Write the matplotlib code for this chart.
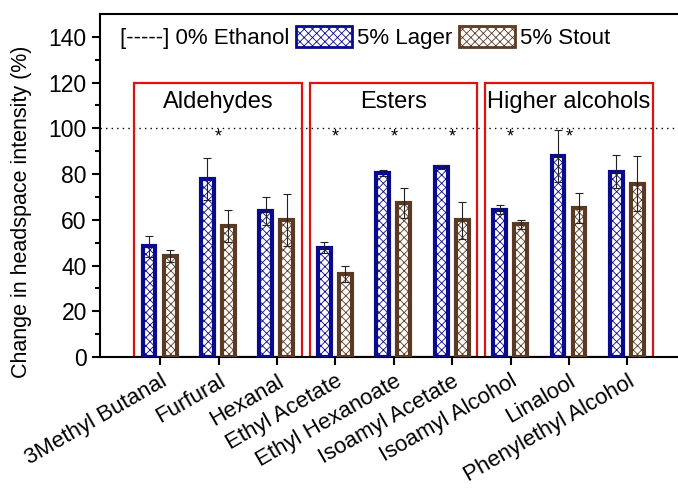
import numpy as np
import matplotlib
matplotlib.use("Agg")
import matplotlib.pyplot as plt
from matplotlib.patches import Rectangle, Patch
from matplotlib.lines import Line2D

plt.rcParams['font.family'] = ['Liberation Sans', 'DejaVu Sans']
plt.rcParams['hatch.linewidth'] = 0.6

# data
compounds = ["3Methyl Butanal", "Furfural", "Hexanal", "Ethyl Acetate",
             "Ethyl Hexanoate", "Isoamyl Acetate", "Isoamyl Alcohol",
             "Linalool", "Phenylethyl Alcohol"]
lager = [48.4, 77.9, 63.7, 47.8, 80.5, 83.0, 64.5, 88.0, 81.1]
lager_err = [4.5, 9.2, 6.1, 2.5, 1.3, 1.0, 1.9, 11.3, 7.4]
stout = [44.2, 57.3, 59.9, 36.5, 67.2, 59.7, 58.0, 65.3, 75.7]
stout_err = [2.5, 7.2, 11.3, 3.5, 6.5, 8.0, 2.0, 6.5, 12.0]
groups = ["Aldehydes", "Esters", "Higher alcohols"]
group_start = [0, 3, 6]
signif = [1, 3, 4, 5, 6, 7]

navy = '#0a0a8c'
brown = '#5a3a24'

fig = plt.figure(figsize=(6.78, 4.88), dpi=100)
ax = fig.add_axes([100/678, 131/488, 580/678, 343/488])

x = np.arange(len(compounds))
w = 0.22
ax.bar(x - 0.19, lager, w, color='white', edgecolor=navy, linewidth=3.0,
       hatch='xxxx', zorder=3)
ax.bar(x + 0.17, stout, w, color='white', edgecolor=brown, linewidth=3.0,
       hatch='xxxx', zorder=3)
ax.errorbar(x - 0.19, lager, yerr=lager_err, fmt='none', ecolor='#222222',
            elinewidth=0.8, capsize=3, capthick=0.8, zorder=4)
ax.errorbar(x + 0.17, stout, yerr=stout_err, fmt='none', ecolor='#222222',
            elinewidth=0.8, capsize=3, capthick=0.8, zorder=4)

# significance marks
for i in signif:
    ax.text(x[i], 96, '*', ha='center', va='center', fontsize=13)

# group boxes
for g, s in zip(groups, group_start):
    ax.add_patch(Rectangle((s - 0.44, 0), 2.87, 120, fill=False,
                           edgecolor='#e01010', linewidth=1.6, zorder=2))
    ax.text(s + 1, 111.5, g, ha='center', va='center', fontsize=17)

ax.axhline(100, color='black', linestyle=(0, (1, 3)), linewidth=1.0, zorder=1)

ax.set_xlim(-1.03, 8.9)
ax.set_ylim(0, 150)
ax.set_yticks(np.arange(0, 141, 20))
ax.set_yticks(np.arange(10, 141, 20), minor=True)
ax.set_xticks(x)
ax.set_xticklabels(compounds, rotation=30, ha='right', rotation_mode='anchor',
                   fontsize=16)
ax.tick_params(axis='both', which='major', direction='out', length=6, width=1.5)
ax.tick_params(axis='y', labelsize=16.5)
ax.tick_params(axis='y', which='minor', direction='out', length=3.5, width=1.5)
ax.tick_params(axis='x', pad=4)
for sp in ax.spines.values():
    sp.set_linewidth(1.5)
ax.set_ylabel('Change in headspace intensity (%)', fontsize=15.5)
ax.yaxis.set_label_coords(-0.117, 0.423)

handles = [Line2D([], [], linestyle='none'),
           Patch(facecolor='white', edgecolor=navy, hatch='xxxx', linewidth=2),
           Patch(facecolor='white', edgecolor=brown, hatch='xxxx', linewidth=2)]
labels = ['[-----] 0% Ethanol', '5% Lager', '5% Stout']
ax.legend(handles, labels, ncol=3, loc='upper left', frameon=False,
          fontsize=16, handlelength=2.5, handleheight=1.1,
          handletextpad=0.25, columnspacing=0.3, borderaxespad=0.2,
          bbox_to_anchor=(-0.094, 1.005))

fig.savefig('out.png', dpi=100)
